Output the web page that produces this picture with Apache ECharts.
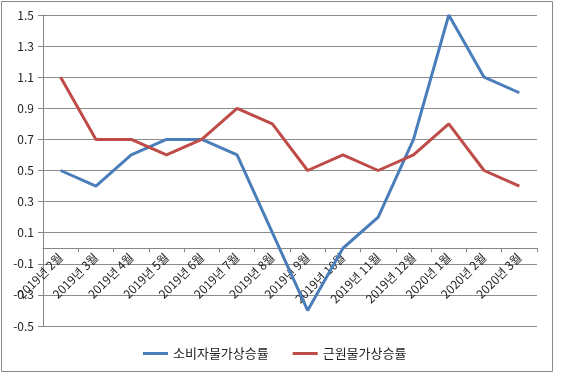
<!DOCTYPE html>
<html><head><meta charset="utf-8">
<script src="https://cdn.jsdelivr.net/npm/echarts@6/dist/echarts.min.js"></script>
<style>html,body{margin:0;padding:0;background:#fff}#c{width:578px;height:391px}</style>
</head><body><div id="c"></div>
<script>
var categories = ['2019년 2월','2019년 3월','2019년 4월','2019년 5월','2019년 6월','2019년 7월','2019년 8월','2019년 9월','2019년 10월','2019년 11월','2019년 12월','2020년 1월','2020년 2월','2020년 3월'];
var cpi = [0.5, 0.4, 0.6, 0.7, 0.7, 0.6, 0.1, -0.4, 0.0, 0.2, 0.7, 1.5, 1.1, 1.0];
var core = [1.1, 0.7, 0.7, 0.6, 0.7, 0.9, 0.8, 0.5, 0.6, 0.5, 0.6, 0.8, 0.5, 0.4];
var seriesNames = ['소비자물가상승률', '근원물가상승률'];
var yMin = -0.5, yMax = 1.5, yStep = 0.2;

var gridTop = 15, gridBottom = 65, chartH = 391;
var plotH = chartH - gridTop - gridBottom;
// pixel position of value 0 measured from bottom, computed from the scale
var zeroFromBottom = gridBottom + plotH * (0 - yMin) / (yMax - yMin);

var chart = echarts.init(document.getElementById('c'));
var font = '"Noto Sans CJK KR", "Noto Sans", sans-serif';
var axisGray = '#868686';
chart.setOption({
  animation: false,
  graphic: [{type: 'rect', shape: {x: 1.5, y: 1.5, width: 551, height: 370}, style: {fill: 'none', stroke: '#888', lineWidth: 1}, silent: true}],
  grid: [
    {left: 43, right: 41, top: gridTop, bottom: gridBottom, containLabel: false},
    {left: 43, right: 41, top: gridTop, bottom: zeroFromBottom, containLabel: false}
  ],
  legend: {
    bottom: 26, left: 138, itemWidth: 25, itemHeight: 3, itemGap: 24,
    icon: 'rect',
    textStyle: {fontFamily: font, fontSize: 13, color: '#222'},
    data: seriesNames
  },
  xAxis: [
    {type: 'category', gridIndex: 0, data: categories, boundaryGap: true,
     axisLine: {show: false}, axisTick: {show: false}, axisLabel: {show: false}, splitLine: {show: false}},
    {type: 'category', gridIndex: 1, data: categories, boundaryGap: true, position: 'bottom',
     axisLine: {show: true, onZero: false, lineStyle: {color: axisGray, width: 1}},
     axisTick: {show: true, length: 4, alignWithLabel: false, lineStyle: {color: axisGray}},
     axisLabel: {rotate: 45, interval: 0, margin: 7, fontFamily: font, fontSize: 12, color: '#222'},
     splitLine: {show: false}}
  ],
  yAxis: [
    {type: 'value', gridIndex: 0, min: yMin, max: yMax, show: true, position: 'left',
     axisLine: {show: false}, axisTick: {show: false}, axisLabel: {show: false}, splitLine: {show: false}},
    {type: 'value', gridIndex: 0, min: 0, max: yMax - yMin, interval: yStep, position: 'left',
     axisLine: {show: true, onZero: false, lineStyle: {color: axisGray}},
     axisTick: {show: true, length: 5, lineStyle: {color: axisGray}},
     axisLabel: {fontFamily: font, fontSize: 12, color: '#222', margin: 9,
       formatter: function (v) { return (v + yMin).toFixed(1); }},
     splitLine: {show: true, lineStyle: {color: '#8c8c8c', width: 1}}},
    {type: 'value', gridIndex: 1, show: false, min: 0, max: 1}
  ],
  series: [
    {name: seriesNames[0], type: 'line', xAxisIndex: 0, yAxisIndex: 0, data: cpi, symbol: 'none',
     lineStyle: {color: '#4a7ebb', width: 3}, itemStyle: {color: '#4a7ebb'}},
    {name: seriesNames[1], type: 'line', xAxisIndex: 0, yAxisIndex: 0, data: core, symbol: 'none',
     lineStyle: {color: '#be4b48', width: 3}, itemStyle: {color: '#be4b48'}}
  ]
});
</script></body></html>
